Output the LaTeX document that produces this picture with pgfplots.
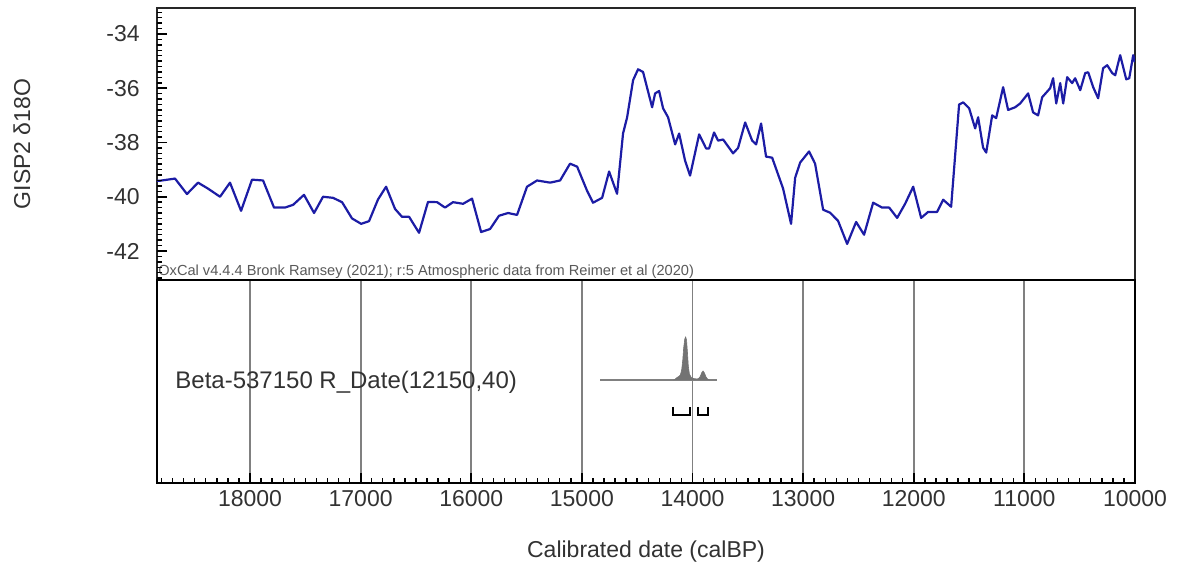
\documentclass[border=0pt]{standalone}
\usepackage{pgfplots}
\pgfplotsset{compat=1.18}
\usepackage{fontspec}
\setmainfont{Liberation Sans}
\definecolor{linenavy}{RGB}{28,28,165}
\definecolor{txt}{RGB}{50,50,50}
\begin{document}
\begin{tikzpicture}[x=1pt,y=1pt]
\path[use as bounding box] (0,0) rectangle (589,-283);
\begin{axis}[
  at={(78.5pt,-4pt)}, anchor=north west,
  width=489pt, height=136pt, scale only axis,
  xmin=10000, xmax=18841, x dir=reverse,
  ymin=-43.07, ymax=-33.04,
  xtick=\empty, ytick=\empty,
  axis line style={black!85, line width=1pt},
  clip=true,
]
\addplot[linenavy, line width=1.1pt, line join=round] coordinates {
(18841,-39.41) (18814,-39.41) (18678,-39.33) (18570,-39.9) (18470,-39.48) (18380,-39.7)
(18271,-40.0) (18181,-39.48) (18081,-40.52) (17982,-39.37) (17882,-39.4)
(17783,-40.4) (17684,-40.4) (17611,-40.3) (17512,-39.93) (17421,-40.6)
(17340,-40.0) (17250,-40.04) (17168,-40.2) (17078,-40.8) (16995,-41.0)
(16924,-40.9) (16843,-40.1) (16770,-39.63) (16689,-40.45) (16626,-40.74)
(16562,-40.74) (16472,-41.33) (16391,-40.19) (16309,-40.2) (16237,-40.4)
(16165,-40.2) (16074,-40.26) (15993,-40.07) (15911,-41.3) (15830,-41.19)
(15749,-40.7) (15667,-40.6) (15586,-40.67) (15496,-39.63) (15405,-39.4)
(15287,-39.48) (15197,-39.4) (15107,-38.78) (15043,-38.89) (14953,-39.78)
(14899,-40.22) (14817,-40.04) (14754,-39.07) (14682,-39.89) (14628,-37.67)
(14591,-37.07) (14537,-35.7) (14492,-35.3) (14447,-35.4) (14365,-36.7)
(14338,-36.19) (14302,-36.1) (14266,-36.74) (14221,-37.07) (14157,-38.07)
(14121,-37.67) (14067,-38.67) (14022,-39.22) (13940,-37.7) (13877,-38.22)
(13850,-38.22) (13805,-37.63) (13769,-37.93) (13723,-37.89) (13633,-38.4)
(13588,-38.2) (13524,-37.26) (13461,-37.93) (13425,-38.07) (13380,-37.3)
(13335,-38.52) (13280,-38.56) (13181,-39.7) (13109,-41.0) (13072,-39.3)
(13027,-38.74) (12946,-38.33) (12892,-38.78) (12819,-40.48) (12756,-40.59)
(12684,-40.89) (12602,-41.74) (12521,-40.93) (12449,-41.4) (12367,-40.22)
(12286,-40.4) (12222,-40.4) (12150,-40.78) (12078,-40.26) (12005,-39.63)
(11933,-40.78) (11870,-40.56) (11789,-40.56) (11734,-40.11) (11662,-40.37)
(11590,-36.6) (11553,-36.52) (11499,-36.74) (11445,-37.48) (11418,-37.07)
(11373,-38.19) (11345,-38.37) (11291,-37.0) (11255,-37.1) (11192,-35.96)
(11147,-36.8) (11083,-36.7) (11038,-36.56) (10993,-36.33) (10966,-36.19)
(10921,-36.89) (10876,-37.0) (10839,-36.33) (10767,-36.0) (10740,-35.63)
(10712,-36.56) (10676,-35.81) (10649,-36.56) (10613,-35.59) (10568,-35.81)
(10541,-35.63) (10495,-36.07) (10450,-35.44) (10423,-35.41) (10378,-35.96)
(10333,-36.37) (10288,-35.26) (10251,-35.15) (10206,-35.44) (10179,-35.52)
(10134,-34.78) (10079,-35.67) (10052,-35.63) (10016,-34.78) (10000,-35.04)
};
\node[anchor=south west, inner sep=0.5pt, text=black!65, font=\fontsize{7.3}{8}\selectfont]
  at (rel axis cs:0,0) {OxCal v4.4.4 Bronk Ramsey (2021); r:5 Atmospheric data from Reimer et al (2020)};
\end{axis}
\begin{axis}[
  at={(78.5pt,-4pt)}, anchor=north east,
  width=0.1pt, height=136pt, scale only axis,
  xmin=0, xmax=1,
  ymin=-43.07, ymax=-33.04,
  xtick=\empty,
  ytick={-42,-40,-38,-36,-34},
  yticklabels={-42,-40,-38,-36,-34},
  minor ytick={-43,-42.8,...,-33.2},
  ytick pos=right,
  yticklabel pos=left,
  tick align=outside,
  major tick length=5pt, minor tick length=2.5pt,
  tick style={black, line width=0.9pt},
  minor tick style={black, line width=0.7pt},
  axis line style={draw=none},
  yticklabel style={font=\fontsize{11.5}{13}\selectfont, text=txt},
]
\end{axis}
\begin{axis}[
  at={(78.5pt,-140pt)}, anchor=north west,
  width=489pt, height=101.5pt, scale only axis,
  xmin=10000, xmax=18841, x dir=reverse,
  ymin=-103, ymax=100,
  ytick=\empty,
  xtick={10000,11000,12000,13000,14000,15000,16000,17000,18000},
  xticklabels={10000,11000,12000,13000,14000,15000,16000,17000,18000},
  scaled x ticks=false,
  minor xtick={10100,10200,...,18800},
  xtick pos=bottom,
  tick align=inside,
  major tick length=5pt, minor tick length=2.5pt,
  tick style={black, line width=0.9pt},
  minor tick style={black, line width=0.7pt},
  xmajorgrids,
  major grid style={black!50, line width=0.9pt},
  axis line style={black, line width=1.2pt},
  xticklabel style={font=\fontsize{11.5}{13}\selectfont, text=txt},
]
\addplot[black!50, line width=0.9pt] coordinates {(14835,0) (13778,0)};
\addplot[fill=black!55, draw=black!55, line width=0.3pt] coordinates {
(14170,0) (14155,1) (14140,2.5) (14125,3.5) (14110,5) (14098,10) (14088,20)
(14080,32) (14070,41) (14062,43) (14054,40) (14046,28) (14038,14) (14028,6)
(14012,2.5) (13990,1.5) (13960,1) (13945,1.5) (13930,3.5) (13916,7.5) (13904,9)
(13892,7) (13878,3) (13864,1) (13848,0)
};
\addplot[black, line width=1.1pt] coordinates {(14175,-27) (14175,-35) (14022,-35) (14022,-27)};
\addplot[black, line width=1.1pt] coordinates {(13950,-27) (13950,-35) (13859,-35) (13859,-27)};
\node[anchor=west, inner sep=0pt, text=txt, font=\fontsize{12}{14}\selectfont]
  at (axis cs:18678,-2) {Beta-537150 R\_Date(12150,40)};
\end{axis}
\node[rotate=90, text=txt, font=\fontsize{11.5}{13}\selectfont] at (11,-72) {GISP2 δ18O};
\node[text=txt, font=\fontsize{11.5}{13}\selectfont] at (323,-276) {Calibrated date (calBP)};
\end{tikzpicture}
\end{document}
